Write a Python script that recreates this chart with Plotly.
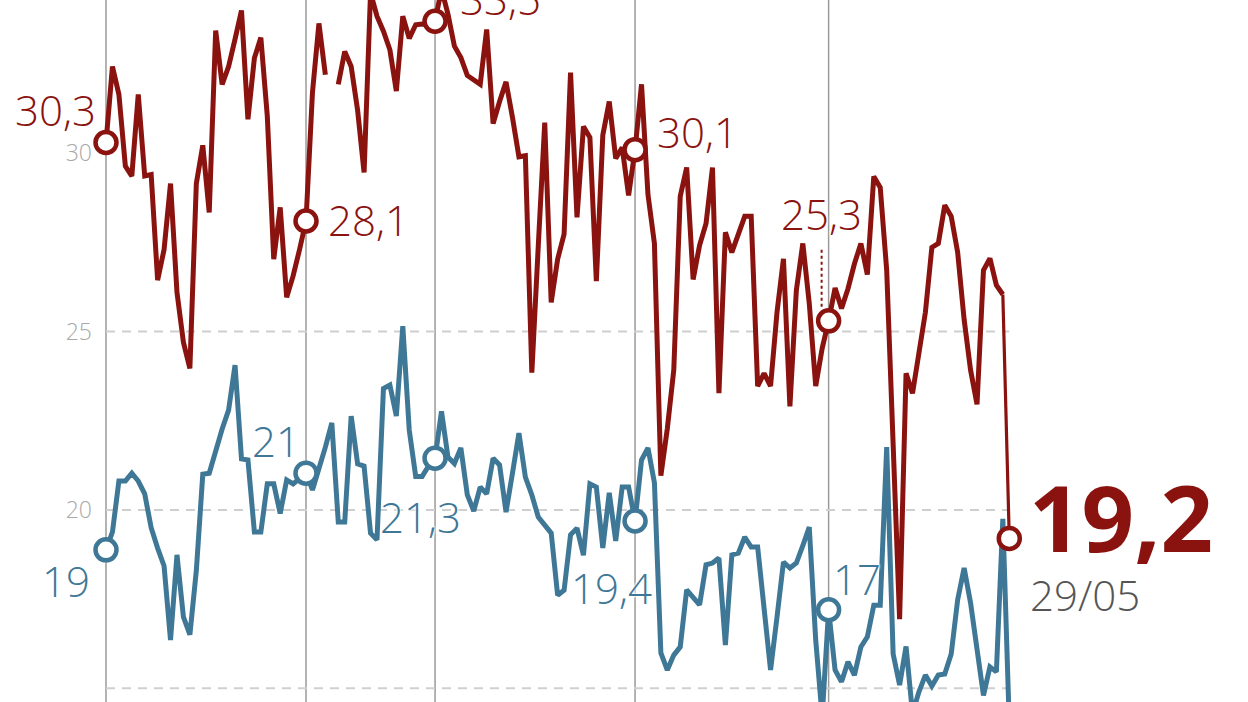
import pandas as pd
import plotly.graph_objects as go

# ---------------- data ----------------
start_date = "2020-01-10"
red = [30.3, 32.43, 31.65, 29.64, 29.36, 31.65, 29.36, 29.4, 26.44, 27.3,
       29.15, 26.1, 24.7, 23.97, 29.15, 30.22, 28.34, 33.44, 31.93, 32.43,
       33.2, 34.0, 30.95, 32.67, 33.24, 31.04, 27.03, 28.48, 25.96, 26.56,
       27.3, 28.1, 31.7, 33.64, 32.2, None, 31.93, 32.85, 32.43, 31.2,
       29.46, 34.5, 33.84, 33.42, 32.9, 31.74, 33.84, 33.22, 33.6, 33.62,
       33.6, 33.7, 34.6, 33.9, 33.0, 32.68, 32.18, 32.07, 31.93, 33.47,
       30.83, 31.45, 32.0, 31.0, 29.9, 29.93, 23.85, 27.4, 30.86, 25.82,
       27.03, 27.73, 32.26, 28.2, 30.75, 30.44, 26.41, 30.5, 31.45, 29.85,
       30.16, 28.82, 30.1, 31.93, 28.84, 27.47, 20.96, 22.28, 23.92, 28.79,
       29.6, 26.46, 27.42, 28.03, 29.6, 23.27, 27.78, 27.22, 27.72, 28.23,
       28.23, 23.47, 23.83, 23.47, 25.54, 27.04, 22.9, 26.16, 27.47, 25.79,
       23.47, 24.53, 25.3, 26.22, 25.65, 26.2, 26.9, 27.47, 26.6, 29.35,
       29.04, 26.72, 21.84, 16.94, 23.83, 23.27, 24.4, 25.54, 27.36, 27.47,
       28.54, 28.23, 27.22, 25.34, 23.92, 22.96, 26.72, 27.05, 26.3, 26.04,
       19.2]
blue = [18.88, 19.38, 20.81, 20.81, 21.03, 20.81, 20.45, 19.5, 18.93, 18.43,
        16.35, 18.74, 17.0, 16.5, 18.3, 21.0, 21.03, 21.68, 22.27, 22.8,
        24.06, 21.43, 21.4, 19.38, 19.38, 20.73, 20.73, 19.9, 20.84, 20.73,
        20.9, 21.03, 20.56, 21.12, 21.76, 22.44, 19.66, 19.66, 22.63, 21.29,
        21.23, 19.35, 19.16, 23.4, 23.5, 22.63, 25.15, 22.24, 20.94, 20.94,
        21.23, 21.45, 22.76, 21.48, 21.3, 21.74, 20.42, 19.97, 20.64, 20.45,
        21.45, 21.26, 19.94, 21.03, 22.15, 20.92, 20.42, 19.8, 19.55, 19.35,
        17.61, 17.75, 19.3, 19.49, 18.73, 20.73, 20.64, 18.93, 20.48, 19.13,
        20.64, 20.64, 19.69, 21.4, 21.74, 20.76, 15.99, 15.51, 15.93, 16.16,
        17.76, 17.56, 17.34, 18.46, 18.51, 18.65, 16.21, 18.74, 18.79, 19.24,
        18.96, 18.96, 17.25, 15.51, 17.0, 18.54, 18.37, 18.51, 19.0, 19.52,
        16.35, 14.2, 17.2, 15.51, 15.18, 15.74, 15.37, 16.16, 16.44, 17.33,
        17.33, 21.76, 15.96, 15.09, 16.17, 14.3, 14.9, 15.37, 15.06, 15.37,
        15.4, 15.96, 17.48, 18.37, 17.39, 16.07, 14.8, 15.6, 15.46, 19.75,
        14.0]
marker_idx = [0, 31, 51, 82, 112]
red_labels = ["30,3", "28,1", "33,5", "30,1", "25,3"]
blue_labels = ["19", "21", "21,3", "19,4", "17"]
last_value_label = "19,2"
last_date_label = "29/05"
ytick_vals = [15, 20, 25, 30]
ytick_text = ["15", "20", "25", "30"]
grid_vals = [15, 20, 25]

# ---------------- styles ----------------
RED = "#8a130f"
BLUE = "#3f7896"
FONT = "Open Sans"
dates = pd.date_range(start_date, periods=len(red), freq="D")
PX_PER_DAY = 6.452
LEFT = 93
X_FIRST = 106

fig = go.Figure()

fig.add_trace(go.Scatter(x=dates, y=blue, mode="lines",
                         line=dict(color=BLUE, width=5), hoverinfo="skip"))
fig.add_trace(go.Scatter(x=dates[:-1], y=red[:-1], mode="lines",
                         line=dict(color=RED, width=5), hoverinfo="skip"))
fig.add_trace(go.Scatter(x=dates[-2:], y=red[-2:], mode="lines",
                         line=dict(color=RED, width=3.2), hoverinfo="skip"))

# markers
fig.add_trace(go.Scatter(x=[dates[i] for i in marker_idx], y=[blue[i] for i in marker_idx],
                         mode="markers", cliponaxis=False, hoverinfo="skip",
                         marker=dict(size=21, color="white", line=dict(color=BLUE, width=4.5))))
fig.add_trace(go.Scatter(x=[dates[i] for i in marker_idx] + [dates[-1]],
                         y=[red[i] for i in marker_idx] + [red[-1]],
                         mode="markers", cliponaxis=False, hoverinfo="skip",
                         marker=dict(size=21, color="white", line=dict(color=RED, width=4.5))))

shapes = []
for g in grid_vals:
    shapes.append(dict(type="line", xref="x", yref="y", x0=dates[0], x1=dates[-1], y0=g, y1=g,
                       line=dict(color="#cfcfcf", width=2, dash="9px,7px"), layer="below"))
for i in marker_idx:
    shapes.append(dict(type="line", xref="x", yref="paper", x0=dates[i], x1=dates[i], y0=0, y1=1,
                       line=dict(color="#9a9a9a", width=1.5), layer="below"))
# dotted leader for 25,3
shapes.append(dict(type="line", xref="x", yref="y", xsizemode="pixel", ysizemode="pixel",
                   xanchor=dates[marker_idx[4]], yanchor=red[marker_idx[4]],
                   x0=-7, x1=-7, y0=14, y1=74,
                   line=dict(color=RED, width=2, dash="dot")))

halo = "0 0 3px #fff, 0 0 3px #fff, 0 0 3px #fff"
ann = []
red_off = [("right", -8, 33), ("left", 20, 1), ("left", 23, 23), ("left", 20, 18), ("center", -7, 107)]
blue_off = [("right", -14, -31), ("right", -4, 33), ("right", 28, -58), ("right", 19, -67), ("left", 2, 31)]
for k, i in enumerate(marker_idx):
    xa, xs, ys = red_off[k]
    ann.append(dict(x=dates[i], y=red[i], text=red_labels[k], showarrow=False,
                    xanchor=xa, yanchor="middle", xshift=xs, yshift=ys,
                    font=dict(family=FONT, size=42, color=RED, weight=300, shadow=halo)))
    xa, xs, ys = blue_off[k]
    ann.append(dict(x=dates[i], y=blue[i], text=blue_labels[k], showarrow=False,
                    xanchor=xa, yanchor="middle", xshift=xs, yshift=ys,
                    font=dict(family=FONT, size=42, color=BLUE, weight=300, shadow=halo)))
ann.append(dict(x=dates[-1], y=red[-1], text=last_value_label, showarrow=False,
                xanchor="left", yanchor="middle", xshift=18, yshift=22,
                font=dict(family=FONT, size=92, color=RED, weight=700)))
ann.append(dict(x=dates[-1], y=red[-1], text=last_date_label, showarrow=False,
                xanchor="left", yanchor="middle", xshift=19, yshift=-56,
                font=dict(family=FONT, size=42, color="#555555", weight=300)))

x0 = dates[0] - pd.Timedelta(days=(X_FIRST - LEFT) / PX_PER_DAY)
x1 = dates[0] + pd.Timedelta(days=(1248 - X_FIRST) / PX_PER_DAY)

fig.update_layout(
    width=1248, height=702,
    margin=dict(l=LEFT, r=0, t=0, b=0),
    paper_bgcolor="white", plot_bgcolor="white",
    showlegend=False,
    shapes=shapes, annotations=ann,
    xaxis=dict(range=[x0, x1], showgrid=False, zeroline=False, showticklabels=False,
               showline=False, ticks=""),
    yaxis=dict(range=[14.615, 34.295], tickvals=ytick_vals, ticktext=ytick_text,
               showgrid=False, zeroline=False, showline=False, ticks="",
               tickfont=dict(family=FONT, size=23, color="#a8a8a8", weight=300)),
)

fig.write_html("out.html", config={"displayModeBar": False},
               post_script="document.body.style.margin='0';document.body.style.overflow='hidden';")
